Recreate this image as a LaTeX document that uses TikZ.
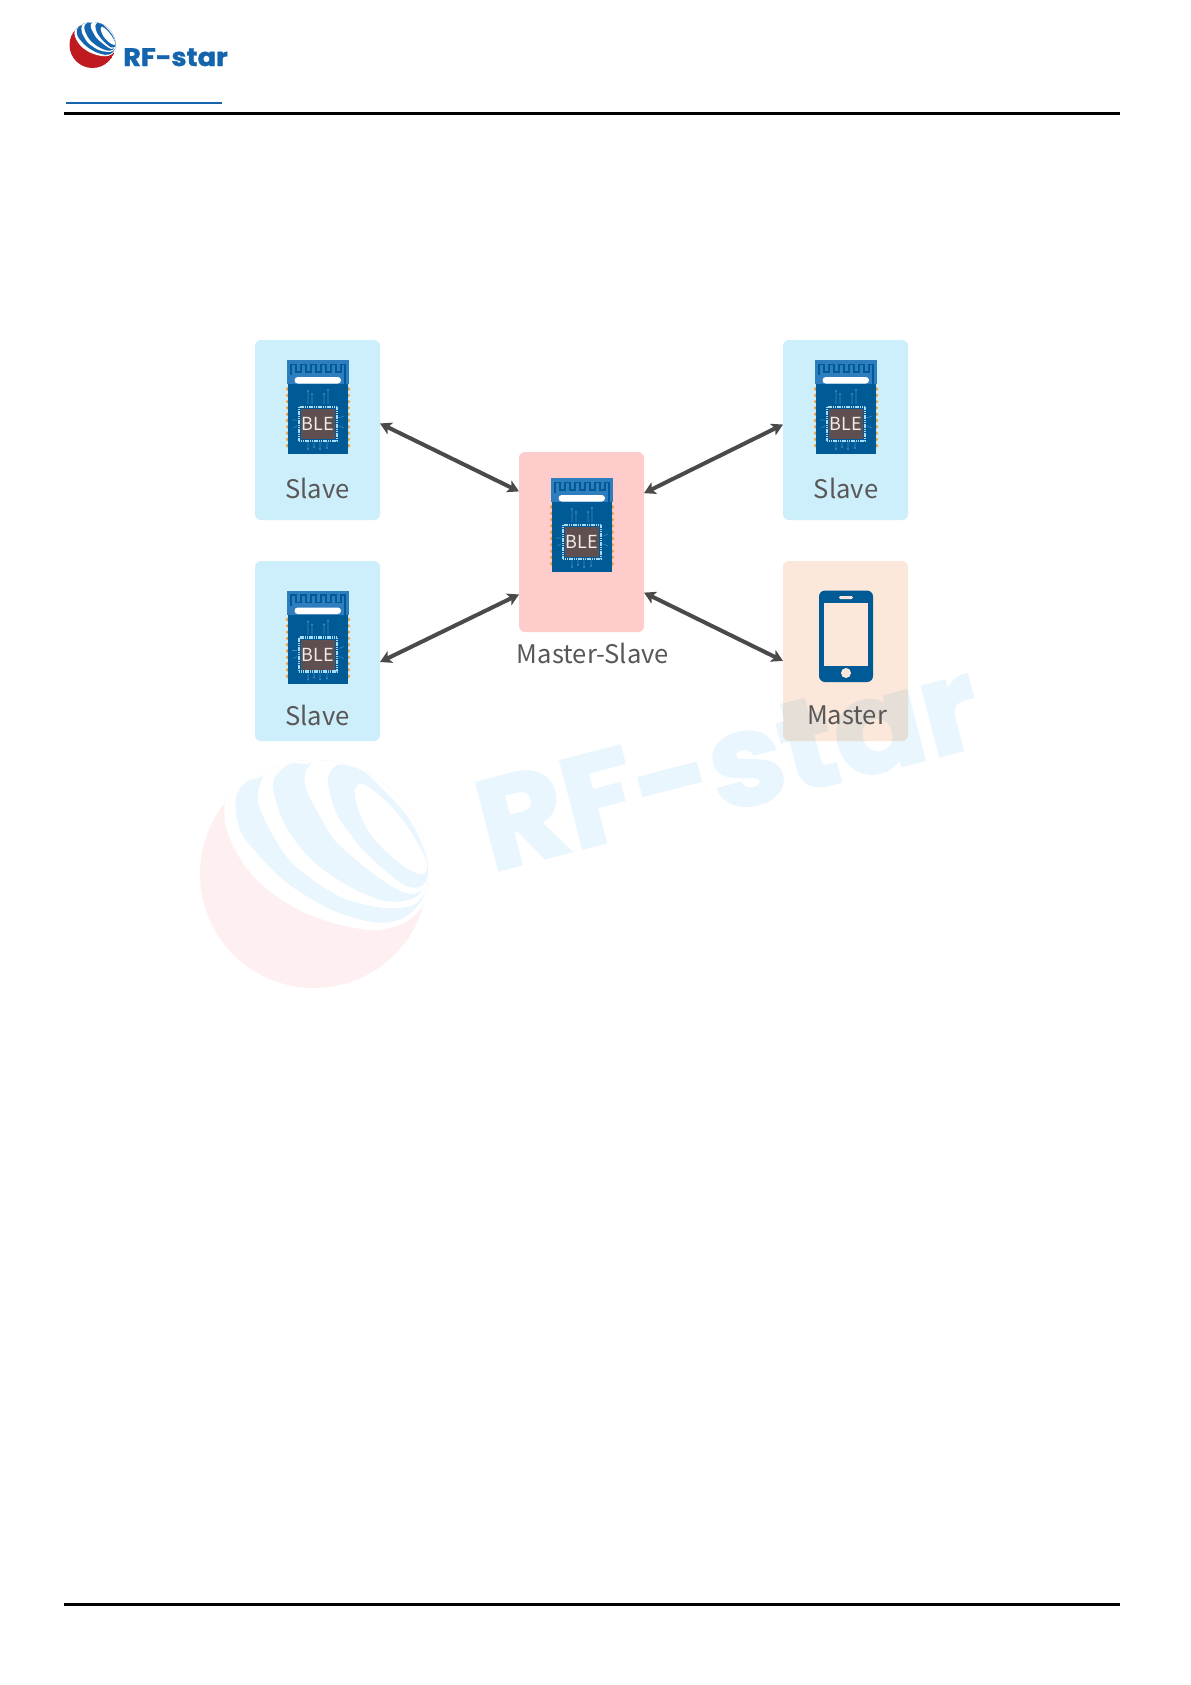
\documentclass[tikz,border=0pt]{standalone}
\usepackage{fontspec}
\usetikzlibrary{arrows.meta,calc,shapes.geometric}
\newfontfamily\labelfont{Noto Sans CJK SC}
\newfontfamily\logofont[BoldFeatures={FakeBold=1.2}]{Poppins}
\newfontfamily\wmfont[BoldFeatures={FakeBold=2.2}]{Poppins}
\definecolor{slavebox}{HTML}{CDEEFB}
\definecolor{msbox}{HTML}{FFCCCC}
\definecolor{masterbox}{HTML}{FCE8DA}
\definecolor{modblue}{HTML}{005A96}
\definecolor{antblue}{HTML}{2E7DBF}
\definecolor{trace}{HTML}{3F88BC}
\definecolor{padcol}{HTML}{E8A040}
\definecolor{chipbrown}{HTML}{5F4F50}
\definecolor{chipring}{HTML}{A5DCF5}
\definecolor{bletext}{HTML}{F2EBE6}
\definecolor{labelgrey}{HTML}{595757}
\definecolor{arrowgrey}{HTML}{4A4A4A}
\definecolor{logoblue}{HTML}{1565AE}
\definecolor{logored}{HTML}{BE1A20}
\definecolor{wmblue}{HTML}{E9F6FD}
\definecolor{wmred}{HTML}{FEF0F0}
\tikzset{
  x=0.75pt,y=-0.75pt,
  panel/.style={rectangle,rounded corners=4.5pt,minimum width=93.75pt,minimum height=135pt,inner sep=0pt,outer sep=0pt,anchor=north west},
  lab/.style={text=labelgrey,font=\labelfont\fontsize{19.2pt}{22pt}\selectfont,anchor=base,inner sep=0pt},
  link/.style={draw=arrowgrey,line width=3pt,{Stealth[length=8.5pt,width=9.5pt,inset=2pt]}-{Stealth[length=8.5pt,width=9.5pt,inset=2pt]}},
  rule/.style={line width=2.4pt,black}
}
% px coordinates of top-left corner
\newcommand{\blemodule}[3]{%
  \begin{scope}[shift={(#1,#2)}]
    \foreach \py in {29,35.3,...,92}{
      \fill[padcol] (0.5,\py) circle[radius=1.8];
      \fill[padcol] (61.5,\py) circle[radius=1.8];
    }
    \fill[modblue] (0.8,0) rectangle (61.2,93.5);
    \fill[antblue] (0,0) rectangle (62,24);
    \draw[modblue,line width=1pt,line join=miter]
      (4,15)--(4,4.5)--(9,4.5)--(9,12)--(14,12)--(14,4.5)--(19,4.5)--(19,12)--(24,12)--(24,4.5)--(29,4.5)--(29,12)--(34,12)--(34,4.5)--(39,4.5)--(39,12)--(44,12)--(44,4.5)--(49,4.5)--(49,12)--(54,12)--(54,4.5)--(58,4.5)--(58,24);
    \fill[white,rounded corners=2.4pt] (7.5,17) rectangle (54,23.5);
    \draw[trace,line width=0.45pt]
      (21,44)--(21,31) (25,44)--(25,34) (37,44)--(37,34) (41,44)--(41,30)
      (21,81)--(21,89) (27,81)--(27,87) (33,81)--(33,89) (40,81)--(40,88)
      (10,60)--(5,60) (10,66)--(6,68) (52,58)--(57,56) (52,66)--(57,68);
    \foreach \tx/\ty in {21/31,25/34,37/34,41/30,21/89,27/87,33/89,40/88}{
      \fill[trace] (\tx,\ty) circle[radius=1.1];
    }
    \draw[chipring,line width=1.7pt,dash pattern=on 0.9pt off 0.45pt] (12,47) rectangle (50,81);
    \fill[chipbrown] (14,49) rectangle (48,79);
    \node[text=bletext,font=\labelfont\fontsize{13.5pt}{14pt}\selectfont,inner sep=0pt] (#3) at (31,64) {BLE};
  \end{scope}}
% center x, center y, radius (px), red, blue
\newcommand{\ballmark}[5]{%
  \begin{scope}[shift={(#1,#2)},scale=#3/343,shift={(-372,-372)}]
    \begin{scope}
      \clip (372,372) circle[radius=343];
      \fill[#4] (372,372) circle[radius=343];
      \fill[white] plot[smooth cycle,tension=0.6] coordinates {(125,115)(103,200)(130,290)(200,390)(300,465)(400,510)(500,535)(570,540)(650,515)(712,450)(800,300)(600,-50)(250,-20)};
      \fill[#5] plot[smooth cycle,tension=0.6] coordinates {(228,68)(170,95)(137,145)(150,240)(210,320)(280,390)(360,445)(450,490)(560,518)(640,505)(690,460)(712,420)(800,300)(600,-50)(260,-20)};
      \fill[white] plot[smooth cycle,tension=0.6] coordinates {(240,40)(205,120)(215,190)(290,320)(370,390)(450,440)(530,465)(600,475)(670,465)(712,420)(800,300)(600,-50)(300,-30)};
      \fill[#5] plot[smooth cycle,tension=0.6] coordinates {(365,35)(300,40)(255,80)(250,120)(270,190)(300,250)(360,325)(430,380)(520,430)(600,455)(670,445)(712,405)(800,300)(600,-50)(400,-50)};
      \fill[white] plot[smooth cycle,tension=0.6] coordinates {(365,35)(345,70)(350,120)(380,180)(430,265)(500,330)(570,385)(650,430)(700,420)(718,395)(800,300)(600,-50)(400,-50)};
      \fill[#5] plot[smooth cycle,tension=0.6] coordinates {(440,45)(415,80)(420,130)(440,190)(480,250)(520,300)(590,365)(650,408)(695,408)(715,370)(700,290)(660,210)(620,160)(530,70)(480,48)};
      \fill[white] plot[smooth cycle,tension=0.6] coordinates {(500,110)(515,100)(550,120)(610,175)(660,240)(700,310)(712,350)(700,372)(660,360)(600,315)(540,250)(510,190)(495,135)};
    \end{scope}
  \end{scope}}
\begin{document}
\begin{tikzpicture}
\useasboundingbox (0,0) rectangle (1191,1685);
\fill[white] (0,0) rectangle (1191,1685);
% watermark
\ballmark{314}{874}{114}{wmred}{wmblue}
\node[anchor=base west,inner sep=0pt,text=wmblue,rotate=14.5,font=\wmfont\bfseries\fontsize{96pt}{100pt}\selectfont] (wmtext) at (491,872) {\scalebox{1.04}[1]{RF-star}};
% header
\ballmark{92.5}{45}{23}{logored}{logoblue}
\node[anchor=base west,inner sep=0pt,text=logoblue,font=\logofont\bfseries\fontsize{19pt}{20pt}\selectfont] (logotext) at (123,66) {\scalebox{1.07}[1]{RF-star}};
\coordinate (bl1) at (66,103); \coordinate (bl2) at (222,103);
\draw[logoblue,line width=0.8pt] (bl1)--(bl2);
\coordinate (tr1) at (64,113.5); \coordinate (tr2) at (1119.5,113.5);
\draw[rule] (tr1)--(tr2);
\coordinate (br1) at (64,1604.5); \coordinate (br2) at (1119.5,1604.5);
\draw[rule] (br1)--(br2);
% panels
\node[panel,fill=slavebox] (sTL) at (255,340) {};
\node[panel,fill=slavebox] (sBL) at (255,561) {};
\node[panel,fill=slavebox] (sTR) at (783,340) {};
\node[panel,fill=msbox] (ms) at (519,452) {};
\begin{scope}[blend mode=multiply]
\node[panel,fill=masterbox] (mst) at (783,561) {};
\end{scope}
% modules
\blemodule{287}{360}{bleTL}
\blemodule{287}{590.5}{bleBL}
\blemodule{815}{360}{bleTR}
\blemodule{551}{478}{bleMS}
% phone
\fill[modblue,rounded corners=4.5pt] (819,590.5) rectangle (873,682);
\fill[masterbox] (824,603) rectangle (868,666);
\fill[masterbox] (846,673) circle[radius=5];
\fill[masterbox,rounded corners=1pt] (839,596) rectangle (853,599);
% labels
\node[lab] (lTL) at (317.5,498) {Slave};
\node[lab] (lBL) at (317.5,725.5) {Slave};
\node[lab] (lTR) at (846,498) {Slave};
\node[lab] (lMS) at (593,663.5) {Master-Slave};
\node[lab] (lM) at (847,724) {Master};
% connectors
\draw[link] (sTL.6.4) -- (ms.141.3);
\draw[link] (sBL.-10) -- (ms.220.3);
\draw[link] (sTR.175.4) -- (ms.38.7);
\draw[link] (mst.189.1) -- (ms.-39.2);
\end{tikzpicture}
\end{document}
